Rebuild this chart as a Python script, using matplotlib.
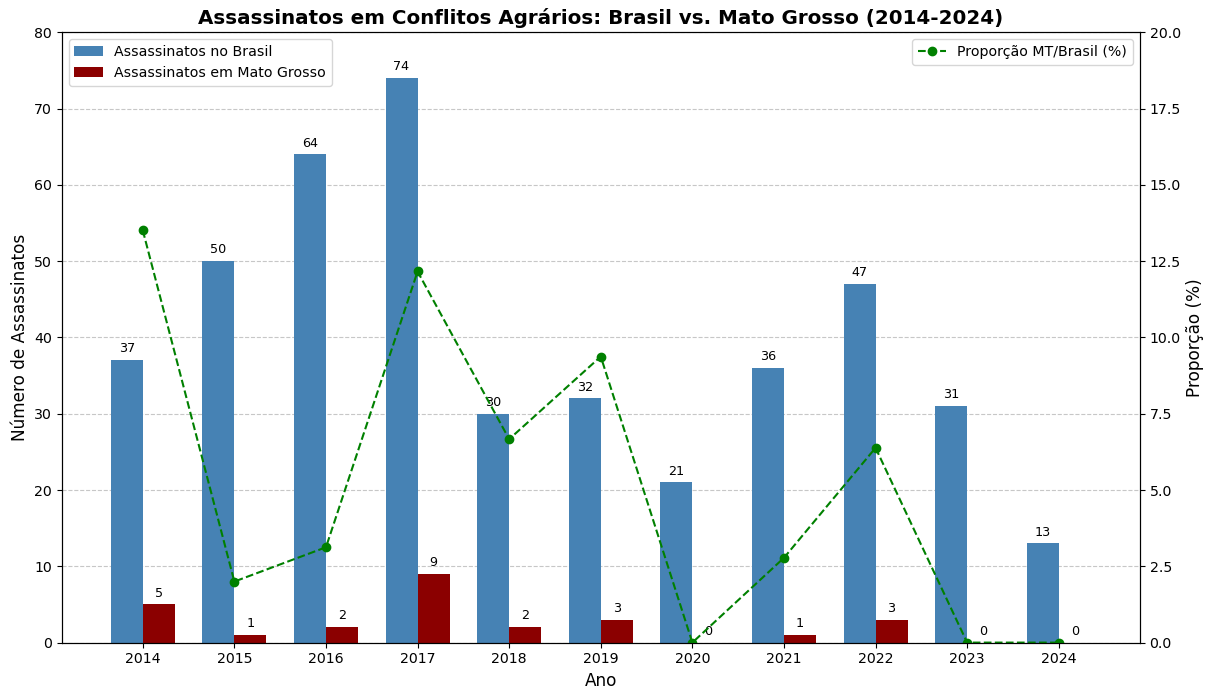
import matplotlib.pyplot as plt
import numpy as np

plt.rcParams['font.size'] = 10.2

anos = [2014, 2015, 2016, 2017, 2018, 2019, 2020, 2021, 2022, 2023, 2024]
brasil = [37, 50, 64, 74, 30, 32, 21, 36, 47, 31, 13]
mato_grosso = [5, 1, 2, 9, 2, 3, 0, 1, 3, 0, 0]

proporcao = [100.0 * m / b for m, b in zip(mato_grosso, brasil)]

x = np.array(anos)
width = 0.35

fig, ax1 = plt.subplots(figsize=(12.1, 6.88), dpi=100)
fig.subplots_adjust(left=0.051, right=0.942, top=0.953, bottom=0.066)

bars1 = ax1.bar(x - width / 2, brasil, width, color='steelblue', label='Assassinatos no Brasil')
bars2 = ax1.bar(x + width / 2, mato_grosso, width, color='darkred', label='Assassinatos em Mato Grosso')

for bars in (bars1, bars2):
    for b in bars:
        h = b.get_height()
        ax1.annotate('{}'.format(int(h)), xy=(b.get_x() + b.get_width() / 2, h),
                     xytext=(0, 3.5), textcoords='offset points',
                     ha='center', va='bottom', fontsize=9.2)

ax1.set_xlabel('Ano', fontsize=12.2)
ax1.set_ylabel('Número de Assassinatos', fontsize=12.2)
ax1.set_xticks(x)
ax1.set_ylim(0, 80)
ax1.grid(axis='y', linestyle='--', alpha=0.7)
ax1.set_axisbelow(True)
ax1.legend(loc='upper left')

ax2 = ax1.twinx()
ax2.plot(x, proporcao, 'o--', color='green', label='Proporção MT/Brasil (%)')
ax2.set_ylabel('Proporção (%)', fontsize=12.2)
ax2.set_ylim(0, 20)
ax2.legend(loc='upper right')

ax1.set_title('Assassinatos em Conflitos Agrários: Brasil vs. Mato Grosso (2014-2024)',
              fontsize=14.3, fontweight='bold')

plt.savefig('out.png')
